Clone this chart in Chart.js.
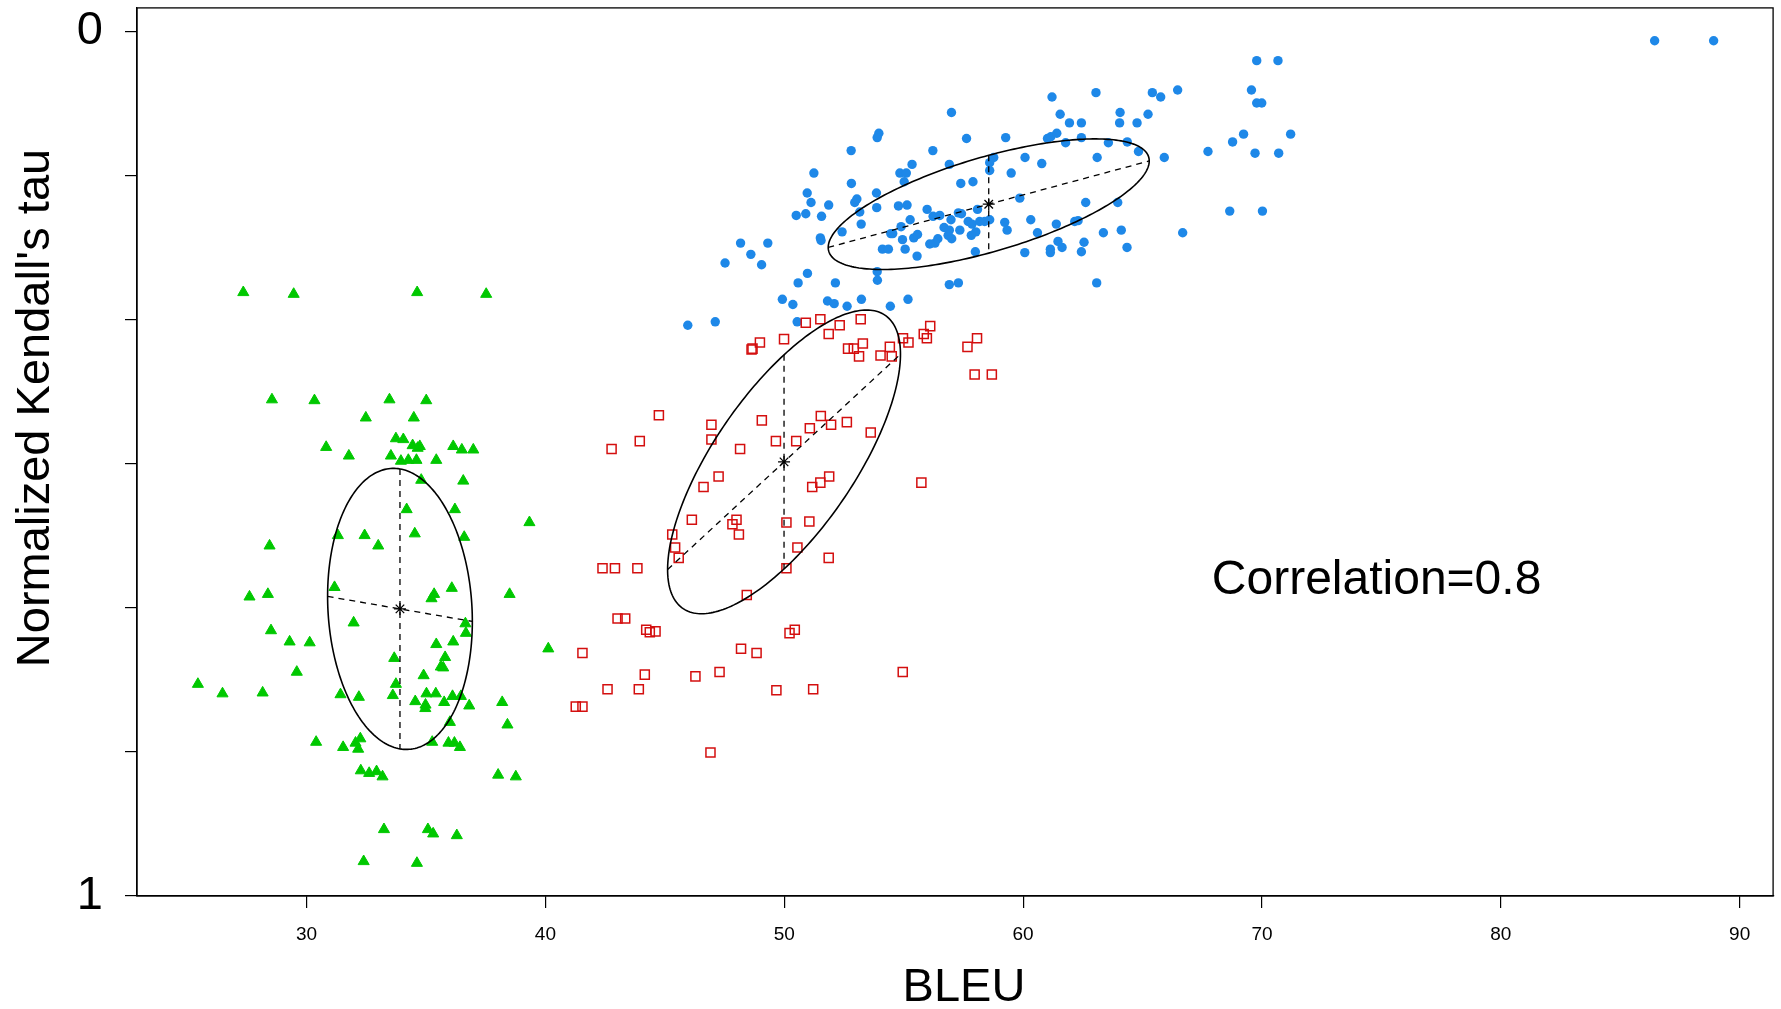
<!DOCTYPE html>
<html>
<head>
<meta charset="utf-8">
<script src="https://cdn.jsdelivr.net/npm/chart.js@4.4.0/dist/chart.umd.min.js"></script>
<style>
  html, body { margin: 0; padding: 0; background: #fff; }
</style>
</head>
<body>
<canvas id="tauChart" width="1781" height="1009"></canvas>
<script>
// BLEU (x) and normalized Kendall's tau (y) per system group
const bleuGreen = [27.35, 29.46, 34.63, 37.52, 28.55, 30.33, 33.47, 35.01, 32.48, 34.49,
  33.74, 34.05, 34.44, 34.65, 34.74, 36.14, 36.50, 36.98, 30.82, 31.77, 33.53, 33.95, 34.26,
  34.60, 35.43, 34.80, 36.56, 34.19, 36.21, 39.33, 31.31, 32.43, 34.53, 36.60, 28.45, 33.00,
  31.17, 36.08, 35.34, 35.23, 27.61, 28.38, 38.50, 31.97, 36.65, 36.67, 28.51, 29.29, 30.13,
  35.43, 36.14, 40.12, 33.67, 35.80, 35.62, 35.72, 29.59, 34.90, 25.45, 26.48, 28.16, 31.42,
  32.19, 33.74, 33.61, 35.02, 35.41, 34.55, 34.98, 34.97, 35.76, 36.11, 36.46, 36.81, 38.19,
  36.00, 38.41, 30.40, 31.53, 32.05, 32.25, 32.16, 35.26, 35.94, 36.19, 36.42, 32.27, 32.62,
  32.93, 33.18, 38.02, 38.76, 33.24, 35.08, 35.30, 36.29, 32.39, 34.62];
const tauGreen = [0.302, 0.304, 0.302, 0.304, 0.426, 0.427, 0.426, 0.427, 0.447, 0.447,
  0.471, 0.472, 0.479, 0.482, 0.480, 0.480, 0.484, 0.484, 0.481, 0.491, 0.491, 0.497, 0.496,
  0.496, 0.496, 0.519, 0.520, 0.553, 0.553, 0.568, 0.583, 0.583, 0.581, 0.585, 0.595, 0.595,
  0.643, 0.644, 0.651, 0.656, 0.654, 0.651, 0.651, 0.684, 0.685, 0.696, 0.693, 0.706, 0.707,
  0.709, 0.706, 0.714, 0.725, 0.724, 0.735, 0.736, 0.741, 0.745, 0.755, 0.766, 0.765, 0.767,
  0.770, 0.755, 0.768, 0.766, 0.766, 0.775, 0.779, 0.783, 0.776, 0.769, 0.769, 0.780, 0.776,
  0.799, 0.802, 0.822, 0.828, 0.823, 0.818, 0.830, 0.822, 0.823, 0.823, 0.828, 0.855, 0.858,
  0.856, 0.862, 0.860, 0.862, 0.923, 0.923, 0.928, 0.930, 0.960, 0.962];

const bleuRed = [50.90, 48.98, 48.67, 48.63, 49.99, 44.75, 46.95, 49.06, 46.95, 43.95,
  42.77, 48.15, 49.65, 50.50, 51.07, 47.25, 46.62, 46.13, 48.00, 47.83, 48.10, 50.09, 45.31,
  45.43, 45.58, 50.55, 42.39, 42.91, 43.85, 50.09, 48.43, 43.02, 43.34, 44.22, 44.37, 44.61,
  50.22, 50.44, 41.55, 48.19, 48.84, 44.16, 46.28, 47.29, 42.60, 43.91, 49.67, 51.21, 41.27,
  41.55, 46.91, 54.96, 51.51, 51.86, 52.32, 53.20, 52.67, 52.91, 53.29, 53.13, 54.03, 54.42,
  54.50, 54.97, 55.20, 55.84, 55.97, 56.11, 57.67, 58.07, 57.97, 58.69, 51.53, 51.96, 52.62,
  53.62, 51.88, 51.51, 51.17, 55.74, 51.05, 51.86];
const tauRed = [0.337, 0.360, 0.367, 0.368, 0.356, 0.444, 0.455, 0.450, 0.472, 0.474,
  0.483, 0.483, 0.474, 0.474, 0.459, 0.515, 0.527, 0.565, 0.565, 0.570, 0.582, 0.568, 0.582,
  0.597, 0.609, 0.597, 0.621, 0.621, 0.621, 0.621, 0.652, 0.679, 0.679, 0.692, 0.695, 0.694,
  0.696, 0.692, 0.719, 0.714, 0.719, 0.744, 0.746, 0.741, 0.761, 0.761, 0.762, 0.761, 0.781,
  0.781, 0.834, 0.741, 0.333, 0.350, 0.340, 0.333, 0.367, 0.367, 0.361, 0.376, 0.375, 0.365,
  0.376, 0.355, 0.360, 0.350, 0.355, 0.341, 0.365, 0.355, 0.397, 0.397, 0.445, 0.455, 0.452,
  0.464, 0.515, 0.522, 0.527, 0.522, 0.567, 0.609];

const bleuBlue = [57.00, 53.96, 53.89, 52.80, 56.22, 56.91, 51.24, 54.84, 55.11, 55.35,
  55.02, 52.81, 50.96, 51.12, 51.86, 53.86, 52.95, 53.04, 53.16, 53.87, 54.78, 55.14, 55.98,
  50.50, 50.90, 51.56, 53.22, 52.42, 55.27, 54.89, 56.23, 56.51, 56.98, 57.29, 51.51, 51.54,
  54.46, 54.54, 54.95, 55.42, 55.58, 56.69, 56.91, 56.43, 56.31, 56.09, 56.86, 57.01, 54.11,
  54.36, 55.06, 55.56, 48.17, 49.31, 48.60, 47.52, 49.05, 53.89, 53.90, 50.97, 50.58, 52.14,
  56.91, 57.29, 49.92, 50.36, 51.81, 52.09, 52.63, 53.23, 54.44, 55.18, 45.96, 47.11, 50.54,
  69.78, 70.67, 69.56, 69.78, 69.99, 61.21, 63.05, 65.41, 65.76, 66.47, 61.55, 61.94, 62.44,
  64.06, 64.04, 64.77, 65.23, 57.63, 59.27, 61.02, 61.16, 61.41, 62.44, 61.78, 63.57, 64.36,
  64.83, 65.91, 67.74, 68.77, 69.23, 71.20, 69.71, 70.70, 58.77, 58.60, 58.60, 60.08, 60.78,
  63.10, 59.50, 57.39, 57.90, 59.86, 62.62, 63.96, 58.09, 57.42, 68.65, 70.02, 57.70, 57.86,
  58.18, 58.39, 58.60, 59.23, 59.33, 60.32, 61.39, 62.16, 62.30, 57.35, 58.02, 57.83, 60.60,
  63.36, 64.11, 66.68, 58.00, 60.07, 61.14, 61.14, 61.46, 61.63, 62.55, 62.44, 64.35, 63.08,
  86.44, 88.91];
const tauBlue = [0.094, 0.118, 0.123, 0.138, 0.138, 0.154, 0.164, 0.164, 0.164, 0.154,
  0.174, 0.176, 0.187, 0.198, 0.201, 0.187, 0.198, 0.194, 0.209, 0.204, 0.202, 0.201, 0.206,
  0.213, 0.211, 0.214, 0.223, 0.232, 0.218, 0.226, 0.214, 0.213, 0.218, 0.210, 0.239, 0.242,
  0.234, 0.234, 0.241, 0.239, 0.235, 0.227, 0.230, 0.240, 0.245, 0.246, 0.236, 0.240, 0.252,
  0.252, 0.252, 0.260, 0.245, 0.245, 0.258, 0.268, 0.270, 0.278, 0.288, 0.280, 0.291, 0.291,
  0.293, 0.291, 0.310, 0.316, 0.312, 0.315, 0.318, 0.310, 0.318, 0.310, 0.340, 0.336, 0.336,
  0.034, 0.034, 0.068, 0.083, 0.083, 0.076, 0.071, 0.071, 0.076, 0.068, 0.096, 0.106, 0.106,
  0.094, 0.106, 0.106, 0.096, 0.124, 0.123, 0.124, 0.122, 0.118, 0.123, 0.129, 0.129, 0.128,
  0.139, 0.146, 0.139, 0.128, 0.119, 0.119, 0.141, 0.141, 0.146, 0.152, 0.161, 0.146, 0.153,
  0.146, 0.164, 0.176, 0.174, 0.193, 0.198, 0.198, 0.206, 0.211, 0.208, 0.208, 0.220, 0.223,
  0.220, 0.220, 0.218, 0.221, 0.230, 0.218, 0.223, 0.220, 0.219, 0.230, 0.232, 0.236, 0.233,
  0.233, 0.230, 0.233, 0.255, 0.256, 0.252, 0.256, 0.243, 0.250, 0.244, 0.255, 0.250, 0.291,
  0.011, 0.011];

// one ellipse per group: centre, spread along each axis, correlation
const ellipseCx = [33.91, 49.99, 58.56];
const ellipseCy = [0.668, 0.498, 0.200];
const ellipseSx = [3.03, 4.875, 6.72];
const ellipseSy = [0.1625, 0.1756, 0.0755];
const ellipseRho = [0.089, -0.709, -0.662];

const xTickValues = [30, 40, 50, 60, 70, 80, 90];
const yTickValues = [0, 1 / 6, 2 / 6, 3 / 6, 4 / 6, 5 / 6, 1];
const yTickLabels = ['0', '', '', '', '', '', '1'];

const toPoints = (xs, ys) => xs.map((x, i) => ({ x: x, y: ys[i] }));
const FONT = 'Liberation Sans';

const ellipsePlugin = {
    id: 'ellipses',
    afterDatasetsDraw(chart) {
        const ctx = chart.ctx;
        const xs = chart.scales.x, ys = chart.scales.y;
        const px = v => xs.getPixelForValue(v);
        const py = v => ys.getPixelForValue(v);
        const area = chart.chartArea;
        ctx.save();
        ctx.strokeStyle = '#000';
        for (let i = 0; i < ellipseCx.length; i++) {
            const cx = ellipseCx[i], cy = ellipseCy[i];
            const sx = ellipseSx[i], sy = ellipseSy[i], r = ellipseRho[i];
            const q = Math.sqrt(1 - r * r);
            ctx.setLineDash([]);
            ctx.lineWidth = 1.6;
            ctx.beginPath();
            for (let k = 0; k <= 240; k++) {
                const t = k / 240 * 2 * Math.PI;
                const x = px(cx + sx * Math.cos(t));
                const y = py(cy + sy * (r * Math.cos(t) + q * Math.sin(t)));
                if (k === 0) ctx.moveTo(x, y); else ctx.lineTo(x, y);
            }
            ctx.closePath();
            ctx.stroke();
            // dashed: line between vertical tangents, and vertical chord at the mean
            ctx.setLineDash([6, 5]);
            ctx.lineWidth = 1.3;
            ctx.beginPath();
            ctx.moveTo(px(cx - sx), py(cy - r * sy));
            ctx.lineTo(px(cx + sx), py(cy + r * sy));
            ctx.moveTo(px(cx), py(cy - q * sy));
            ctx.lineTo(px(cx), py(cy + q * sy));
            ctx.stroke();
        }
        // box round the plot
        ctx.setLineDash([]);
        ctx.lineWidth = 1.3;
        ctx.strokeRect(area.left, area.top, area.right - area.left, area.bottom - area.top);

        ctx.fillStyle = '#000';
        ctx.textBaseline = 'middle';
        // annotation
        ctx.font = '48px "' + FONT + '"';
        ctx.textAlign = 'left';
        ctx.fillText('Correlation=0.8', px(67.9), py(0.636));
        // axis titles
        ctx.font = '47px "' + FONT + '"';
        ctx.textAlign = 'center';
        ctx.fillText('BLEU', 964, 988);
        ctx.translate(36, 408);
        ctx.rotate(-Math.PI / 2);
        ctx.fillText("Normalized Kendall's tau", 0, 0);
        ctx.restore();
    }
};

new Chart(document.getElementById('tauChart').getContext('2d'), {
    type: 'scatter',
    data: {
        datasets: [
            {
                label: 'centres',
                data: toPoints(ellipseCx, ellipseCy),
                pointStyle: 'star',
                pointRadius: 6,
                borderColor: '#000',
                borderWidth: 1.3
            },
            {
                label: 'green',
                data: toPoints(bleuGreen, tauGreen),
                pointStyle: 'triangle',
                pointRadius: 6.4,
                backgroundColor: '#00C800',
                borderColor: '#00C800',
                borderWidth: 1
            },
            {
                label: 'red',
                data: toPoints(bleuRed, tauRed),
                pointStyle: 'rect',
                pointRadius: 6.4,
                backgroundColor: 'rgba(0,0,0,0)',
                borderColor: '#D40F0F',
                borderWidth: 1.5
            },
            {
                label: 'blue',
                data: toPoints(bleuBlue, tauBlue),
                pointStyle: 'circle',
                pointRadius: 4.7,
                backgroundColor: '#1E88E8',
                borderWidth: 0
            }
        ]
    },
    options: {
        responsive: false,
        animation: false,
        devicePixelRatio: 1,
        layout: { padding: { top: 5, right: 7, left: 0, bottom: 0 } },
        plugins: {
            legend: { display: false },
            tooltip: { enabled: false }
        },
        scales: {
            x: {
                type: 'linear',
                min: 22.9,
                max: 91.4,
                afterBuildTicks: s => { s.ticks = xTickValues.map(v => ({ value: v })); },
                afterFit: s => { s.height = 113; s.paddingLeft = 0; s.paddingRight = 0; },
                grid: { drawOnChartArea: false, drawTicks: true, tickLength: 12, color: '#000', lineWidth: 1.2 },
                border: { display: true, color: '#000', width: 1.3 },
                ticks: {
                    color: '#000',
                    font: { family: FONT, size: 19 },
                    padding: 15,
                    maxRotation: 0,
                    autoSkip: false
                }
            },
            y: {
                type: 'linear',
                reverse: true,
                min: -0.027,
                max: 1.0,
                afterBuildTicks: s => { s.ticks = yTickValues.map(v => ({ value: v })); },
                afterFit: s => { s.width = 137; s.paddingTop = 0; s.paddingBottom = 0; },
                grid: { drawOnChartArea: false, drawTicks: true, tickLength: 12, color: '#000', lineWidth: 1.2 },
                border: { display: true, color: '#000', width: 1.3 },
                ticks: {
                    color: '#000',
                    font: { family: FONT, size: 47 },
                    padding: 22,
                    autoSkip: false,
                    callback: (v, i) => yTickLabels[i]
                }
            }
        }
    },
    plugins: [ellipsePlugin]
});
</script>
</body>
</html>
